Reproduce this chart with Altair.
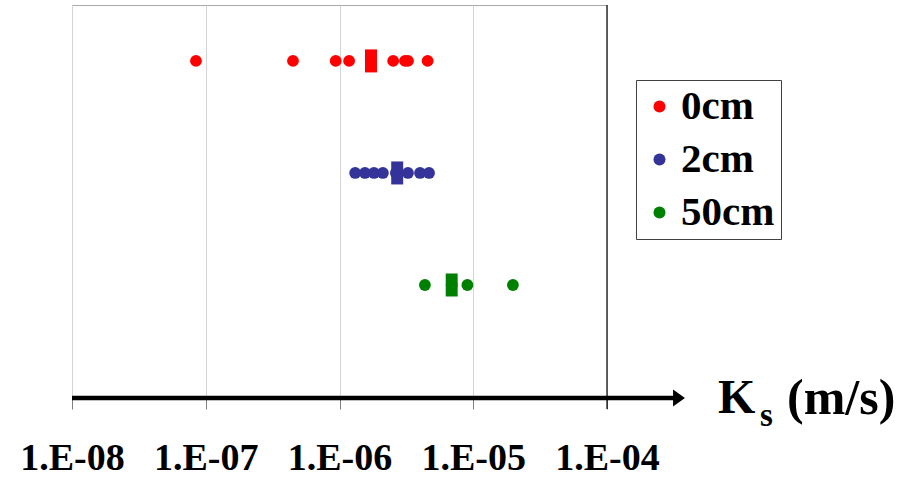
import altair as alt
import pandas as pd

# Saturated hydraulic conductivity (m/s) measured at three depths
series = ["0cm", "2cm", "50cm"]
colors = ["#FF0000", "#333399", "#008000"]

ks_0cm = [8.45e-8, 4.49e-7, 9.37e-7, 1.18e-6, 1.72e-6, 2.52e-6, 3.09e-6, 3.25e-6, 4.56e-6]
ks_2cm = [1.31e-6, 1.55e-6, 1.81e-6, 2.11e-6, 2.64e-6, 3.25e-6, 4.00e-6, 4.67e-6]
ks_50cm = [4.35e-6, 6.90e-6, 9.04e-6, 1.98e-5]

# Representative (mean) value of each depth
ks_mean = [1.72e-6, 2.70e-6, 6.90e-6]

tick_values = [1e-8, 1e-7, 1e-6, 1e-5, 1e-4]

points = pd.DataFrame(
    [{"depth": s, "ks": v} for s, vals in zip(series, [ks_0cm, ks_2cm, ks_50cm]) for v in vals]
)
means = pd.DataFrame({"depth": series, "ks": ks_mean})

FONT = "Liberation Serif"
W, H = 535, 393

x_scale = alt.Scale(type="log", domain=[1e-8, 1e-4], nice=False)
y_scale = alt.Scale(domain=series, padding=0.754, align=0.331)
color_scale = alt.Scale(domain=series, range=colors)

x_axis = alt.Axis(
    values=tick_values,
    title=None,
    grid=True,
    gridColor="#d4d4d4",
    gridWidth=1,
    domain=False,
    ticks=True,
    tickColor="#808080",
    tickSize=11,
    labelExpr="'1.E-0' + abs(round(log(datum.value) / LN10))",
    labelFont=FONT,
    labelFontSize=38,
    labelFontWeight="bold",
    labelColor="black",
    labelFlush=False,
    labelOverlap=False,
    labelBaseline="alphabetic",
    labelPadding=60,
)

dots = alt.Chart(points).mark_circle(size=140, opacity=1).encode(
    x=alt.X("ks:Q", scale=x_scale, axis=x_axis),
    y=alt.Y("depth:N", scale=y_scale, axis=None),
    color=alt.Color(
        "depth:N",
        scale=color_scale,
        legend=alt.Legend(
            title=None,
            orient="none",
            legendX=564,
            legendY=75,
            symbolType="circle",
            symbolSize=144,
            symbolOffset=-3,
            labelFont=FONT,
            labelFontSize=41,
            labelFontWeight="bold",
            labelColor="black",
            labelOffset=1,
            rowPadding=11,
            padding=6,
            strokeColor="#404040",
            fillColor="white",
        ),
    ),
)

mean_marks = alt.Chart(means).mark_point(
    shape="M-0.52,-1H0.52V1H-0.52Z", size=529, filled=True, opacity=1
).encode(
    x=alt.X("ks:Q", scale=x_scale),
    y=alt.Y("depth:N", scale=y_scale),
    color=alt.Color("depth:N", scale=color_scale, legend=None),
)

# Right frame edge at 1e-4, running down through the tick
right_edge = alt.Chart(pd.DataFrame({"ks": [1e-4]})).mark_rule(
    color="black", strokeWidth=1.2
).encode(x=alt.X("ks:Q", scale=x_scale), y=alt.value(0), y2=alt.value(H + 11))

# Heavy horizontal axis line with arrow head
axis_line = alt.Chart().mark_rule(color="black", strokeWidth=4.5, clip=False).encode(
    x=alt.value(0), x2=alt.value(W + 67), y=alt.value(H)
)
arrow = alt.Chart().mark_point(
    shape="M-0.7,-1L0.7,0L-0.7,1Z", size=289, filled=True, color="black", opacity=1, clip=False
).encode(x=alt.value(W + 72), y=alt.value(H))

# Axis title: K with subscript s, followed by units
title_k = alt.Chart().mark_text(
    text="K", font=FONT, fontSize=48, fontWeight="bold", align="left", baseline="alphabetic", color="black"
).encode(x=alt.value(646), y=alt.value(408))
title_sub = alt.Chart().mark_text(
    text="s", font=FONT, fontSize=33, fontWeight="bold", align="left", baseline="alphabetic", color="black"
).encode(x=alt.value(688), y=alt.value(421))
title_units = alt.Chart().mark_text(
    text="(m/s)", font=FONT, fontSize=50, fontWeight="bold", align="left", baseline="alphabetic", color="black"
).encode(x=alt.value(715), y=alt.value(409))

chart = (
    alt.layer(right_edge, dots, mean_marks, axis_line, arrow, title_k, title_sub, title_units)
    .properties(
        width=W,
        height=H,
        autosize=alt.AutoSizeParams(type="none"),
        padding={"left": 72, "top": 5, "right": 316, "bottom": 79},
        background="white",
    )
    .configure_view(stroke="#a8a8a8", strokeWidth=1)
)

chart.save("out.html", embed_options={"renderer": "svg", "actions": False})
